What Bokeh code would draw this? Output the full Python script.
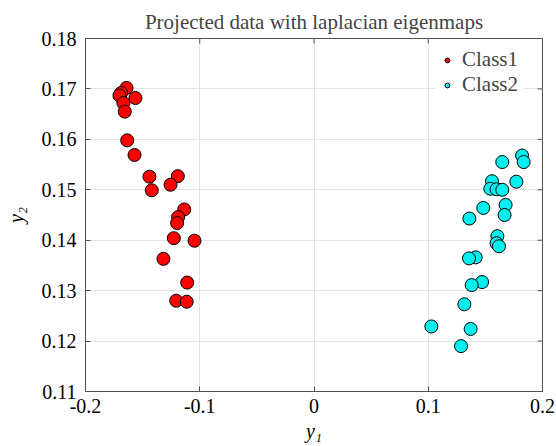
from bokeh.plotting import figure
from bokeh.models import FixedTicker, Range1d, Legend, LegendItem
from bokeh.embed import file_html
from bokeh.resources import INLINE

# Projected coordinates (first and second eigenmap dimensions)
class1_y1 = [-0.1641, -0.1688, -0.1703, -0.1563, -0.1668, -0.1656, -0.1635,
             -0.1571, -0.1440, -0.1192, -0.1420, -0.1256, -0.1136, -0.1189,
             -0.1198, -0.1227, -0.1046, -0.1318, -0.1110, -0.1206, -0.1114]
class1_y2 = [0.1702, 0.1692, 0.1687, 0.1682, 0.1672, 0.1655, 0.1598,
             0.1569, 0.1526, 0.1527, 0.1499, 0.1510, 0.1461, 0.1446,
             0.1434, 0.1404, 0.1399, 0.1363, 0.1316, 0.1280, 0.1278]

class2_y1 = [0.1821, 0.1835, 0.1648, 0.1771, 0.1558, 0.1543, 0.1598, 0.1648,
             0.1677, 0.1482, 0.1668, 0.1360, 0.1605, 0.1598, 0.1619, 0.1415,
             0.1357, 0.1471, 0.1380, 0.1316, 0.1027, 0.1371, 0.1287]
class2_y2 = [0.1568, 0.1555, 0.1555, 0.1516, 0.1517, 0.1502, 0.1501, 0.1500,
             0.1470, 0.1464, 0.1450, 0.1443, 0.1408, 0.1394, 0.1388, 0.1366,
             0.1364, 0.1317, 0.1311, 0.1273, 0.1229, 0.1224, 0.1190]

x_ticks = [-0.2, -0.1, 0.0, 0.1, 0.2]
x_tick_labels = ["-0.2", "-0.1", "0", "0.1", "0.2"]
y_ticks = [0.11, 0.12, 0.13, 0.14, 0.15, 0.16, 0.17, 0.18]
y_tick_labels = ["0.11", "0.12", "0.13", "0.14", "0.15", "0.16", "0.17", "0.18"]

X_MIN, X_MAX = -0.2, 0.2
Y_MIN, Y_MAX = 0.11, 0.18

SERIF = "Liberation Serif"
AXIS_COLOR = "#505050"

p = figure(width=556, height=446,
           x_range=Range1d(X_MIN, X_MAX), y_range=Range1d(Y_MIN, Y_MAX),
           output_backend="svg", toolbar_location=None,
           x_axis_label="y\u2081", y_axis_label="y\u2082",
           min_border_left=85, min_border_right=14,
           min_border_top=38, min_border_bottom=55)

p.title.text = "Projected data with laplacian eigenmaps"
p.title.text_font = SERIF
p.title.text_font_size = "21px"
p.title.text_font_style = "normal"
p.title.align = "center"
p.title.offset = 6
p.title.standoff = 10

p.background_fill_color = "white"
p.border_fill_color = "white"
p.outline_line_color = AXIS_COLOR
p.outline_line_width = 1

for g in (p.xgrid, p.ygrid):
    g.grid_line_color = "#e3e3e3"
    g.grid_line_width = 1
p.xgrid.ticker = FixedTicker(ticks=x_ticks)
p.ygrid.ticker = FixedTicker(ticks=y_ticks)

xa = p.xaxis[0]
ya = p.yaxis[0]
xa.ticker = FixedTicker(ticks=x_ticks)
ya.ticker = FixedTicker(ticks=y_ticks)
xa.major_label_overrides = {t: l for t, l in zip(x_ticks, x_tick_labels)}
ya.major_label_overrides = {t: l for t, l in zip(y_ticks, y_tick_labels)}

for ax in (xa, ya):
    ax.axis_line_color = AXIS_COLOR
    ax.major_tick_line_color = AXIS_COLOR
    ax.major_tick_in = 5
    ax.major_tick_out = 0
    ax.minor_tick_line_color = None
    ax.major_label_text_font = SERIF
    ax.major_label_text_font_size = "20px"
    ax.major_label_text_color = "black"
    ax.axis_label_text_font = SERIF
    ax.axis_label_text_font_size = "20px"
    ax.axis_label_text_font_style = "italic"
    ax.axis_label_text_color = "black"
xa.major_label_standoff = 7
xa.axis_label_standoff = 4
ya.major_label_standoff = 9
ya.axis_label_standoff = 12
ya.major_label_orientation = "horizontal"

# short inward ticks along the top and right edges of the box
tick_len_y = 5 * (Y_MAX - Y_MIN) / 353
tick_len_x = 5 * (X_MAX - X_MIN) / 457
p.segment(x0=x_ticks, y0=[Y_MAX] * len(x_ticks),
          x1=x_ticks, y1=[Y_MAX - tick_len_y] * len(x_ticks),
          line_color=AXIS_COLOR, line_width=1)
p.segment(x0=[X_MAX] * len(y_ticks), y0=y_ticks,
          x1=[X_MAX - tick_len_x] * len(y_ticks), y1=y_ticks,
          line_color=AXIS_COLOR, line_width=1)

r1 = p.scatter(class1_y1, class1_y2, size=13, fill_color="#ff0000",
               line_color="black", line_width=1)
r2 = p.scatter(class2_y1, class2_y2, size=13, fill_color="#00f0f0",
               line_color="black", line_width=1)

# legend anchored by its lower-left corner, in pixels from the frame's lower-left
legend = Legend(items=[LegendItem(label="Class1", renderers=[r1]),
                       LegendItem(label="Class2", renderers=[r2])],
                location=(350, 288))
legend.label_text_font = SERIF
legend.label_text_font_size = "21px"
legend.label_standoff = 9
legend.border_line_alpha = 0
legend.background_fill_color = "white"
legend.background_fill_alpha = 1
legend.glyph_width = 12
legend.glyph_height = 12
legend.label_height = 12
legend.spacing = -4
legend.padding = 6
legend.margin = 0
p.add_layout(legend)

open("out.html", "w").write(file_html(p, INLINE))
